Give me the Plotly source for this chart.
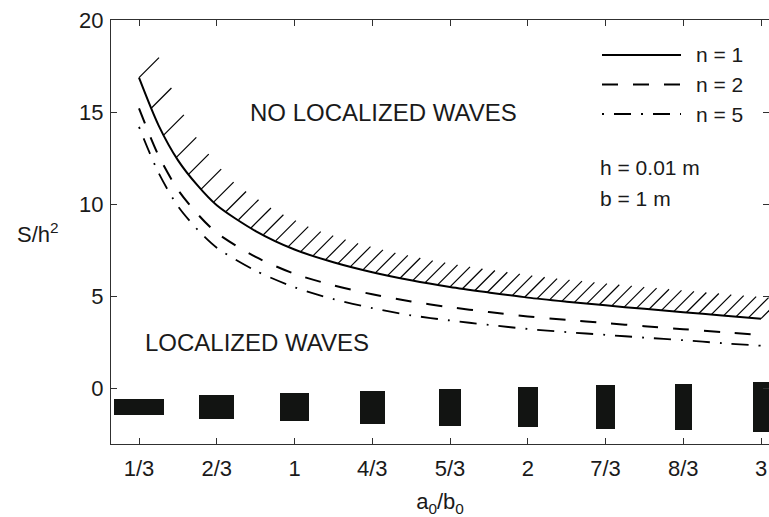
import numpy as np
import plotly.graph_objects as go

# ---------------- data ----------------
ratio = [1/3, 5/12, 1/2, 7/12, 2/3, 5/6, 1, 7/6, 4/3, 3/2, 5/3, 11/6, 2, 13/6, 7/3, 5/2, 8/3, 17/6, 3]
s_n1 = [16.87, 14.30, 12.40, 11.04, 9.95, 8.55, 7.55, 6.86, 6.32, 5.88, 5.52, 5.22, 4.94, 4.72, 4.52, 4.33, 4.15, 3.97, 3.80]
s_n2 = [15.20, 12.66, 10.80, 9.49, 8.45, 7.15, 6.23, 5.61, 5.12, 4.73, 4.42, 4.16, 3.92, 3.73, 3.56, 3.39, 3.23, 3.07, 2.92]
s_n5 = [14.20, 11.72, 9.90, 8.64, 7.65, 6.40, 5.50, 4.86, 4.37, 3.98, 3.70, 3.46, 3.24, 3.07, 2.92, 2.77, 2.63, 2.47, 2.33]
series_names = ["n = 1", "n = 2", "n = 5"]

tick_vals = [1/3, 2/3, 1, 4/3, 5/3, 2, 7/3, 8/3, 3]
tick_text = ["1/3", "2/3", "1", "4/3", "5/3", "2", "7/3", "8/3", "3"]
y_ticks = [0, 5, 10, 15, 20]
section_ratio = tick_vals  # cross-section aspect ratios a0/b0 drawn at the bottom

# ---------------- styling / geometry ----------------
W, H = 769, 517
ML, MR, MT, MB = 111, 0, 20, 73
X_RANGE = [0.2133, 3.0343]
Y_RANGE = [-3, 20]
FONT = "Liberation Sans, Arial, Helvetica, sans-serif"
TXT = "#1a1a1a"
AX = "#303030"
DASH = "16px,15px"
DASHDOT = "2px,10px,17px,10px"
plot_w = W - ML - MR
plot_h = H - MT - MB
px_x = plot_w / (X_RANGE[1] - X_RANGE[0])
px_y = plot_h / (Y_RANGE[1] - Y_RANGE[0])

SECTION_AREA_PX = 815.0
SECTION_CENTER = -1.0
HATCH_COUNT = 51
HATCH_DX_PX, HATCH_DY_PX = 20.0, 20.0

fig = go.Figure()

# cross-section rectangles
sr = np.array(section_ratio)
w_px = np.sqrt(SECTION_AREA_PX / sr)
h_px = np.sqrt(SECTION_AREA_PX * sr)
heights = h_px / px_y
fig.add_trace(go.Bar(
    x=section_ratio, y=heights, base=SECTION_CENTER - heights / 2,
    width=w_px / px_x, marker=dict(color="#121412", line=dict(width=0)),
    showlegend=False, hoverinfo="skip"))

# hatching above the n = 1 curve
hx = np.linspace(ratio[0], ratio[-1], HATCH_COUNT)
hy = np.interp(hx, ratio, s_n1)
hxs, hys = [], []
for a, b in zip(hx, hy):
    hxs += [a, a + HATCH_DX_PX / px_x, None]
    hys += [b, b + HATCH_DY_PX / px_y, None]
fig.add_trace(go.Scatter(x=hxs, y=hys, mode="lines", line=dict(color="black", width=1.2),
                         showlegend=False, hoverinfo="skip"))

styles = [dict(color="black", width=2, dash="solid"),
          dict(color="black", width=2, dash=DASH),
          dict(color="black", width=1.8, dash=DASHDOT)]
for name, vals, st in zip(series_names, [s_n1, s_n2, s_n5], styles):
    fig.add_trace(go.Scatter(x=ratio, y=vals, mode="lines", name=name,
                             line=dict(shape="spline", smoothing=0.8, **st),
                             showlegend=False))

# custom legend (long line samples as in the original)
def px2paper_x(p):
    return (p - ML) / plot_w

def px2paper_y(p):
    return (H - MB - p) / plot_h

legend_rows = [55, 84.5, 114]
for name, st, ry in zip(series_names, styles, legend_rows):
    fig.add_shape(type="line", xref="paper", yref="paper",
                  x0=px2paper_x(602), x1=px2paper_x(681),
                  y0=px2paper_y(ry), y1=px2paper_y(ry),
                  line=dict(color="black", width=st["width"], dash=st["dash"]))
    fig.add_annotation(xref="paper", yref="paper", x=px2paper_x(694), y=px2paper_y(ry),
                       text=name, showarrow=False, xanchor="left", yanchor="middle",
                       font=dict(family=FONT, size=21, color=TXT))

# region and parameter labels
labels = [
    (0.80, 15.0, "NO LOCALIZED WAVES", 24),
    (0.35, 2.5, "LOCALIZED WAVES", 24),
    (2.30, 12.0, "h = 0.01 m", 21),
    (2.30, 10.3, "b = 1 m", 21),
]
for x, y, t, s in labels:
    fig.add_annotation(x=x, y=y, text=t, showarrow=False, xanchor="left", yanchor="middle",
                       font=dict(family=FONT, size=s, color=TXT))

# y-axis label (horizontal)
fig.add_annotation(xref="paper", yref="paper", x=px2paper_x(38), y=px2paper_y(233),
                   text="S/h<sup>2</sup>", showarrow=False, xanchor="center", yanchor="middle",
                   font=dict(family=FONT, size=22, color=TXT))

axis_common = dict(showline=True, linecolor=AX, linewidth=1, mirror="ticks",
                   ticks="inside", ticklen=6, tickwidth=1, tickcolor=AX,
                   showgrid=False, zeroline=False,
                   tickfont=dict(family=FONT, size=22, color=TXT))

fig.update_layout(
    width=W, height=H,
    margin=dict(l=ML, r=MR, t=MT, b=MB, autoexpand=False),
    paper_bgcolor="white", plot_bgcolor="white",
    showlegend=False,
    xaxis=dict(range=X_RANGE, tickvals=tick_vals, ticktext=tick_text,
               title=dict(text="a<sub>0</sub>/b<sub>0</sub>", standoff=14,
                          font=dict(family=FONT, size=22, color=TXT)),
               ticklabelstandoff=5, automargin=False, **axis_common),
    yaxis=dict(range=Y_RANGE, tickvals=y_ticks, ticklabelstandoff=2, automargin=False,
               **axis_common),
    bargap=0,
)

fig.write_html("out.html", config={"displayModeBar": False},
               post_script="document.body.style.margin='0px';document.body.style.overflow='hidden';")
